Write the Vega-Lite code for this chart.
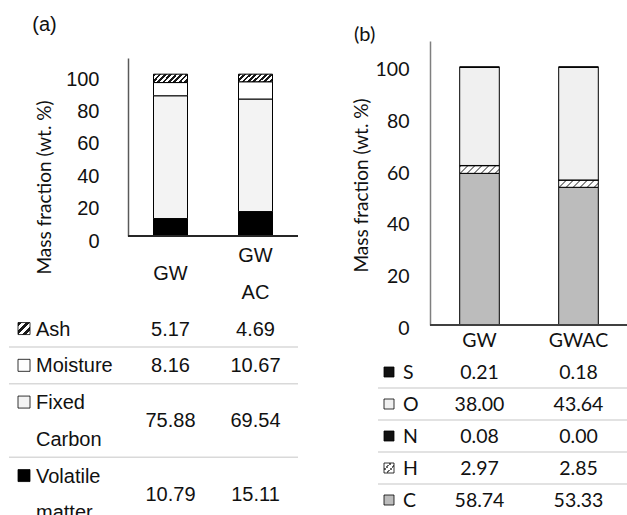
{
  "$schema": "https://vega.github.io/schema/vega-lite/v6.json",
  "background": "white",
  "padding": {"left": 8, "top": 15, "right": 0, "bottom": 0},
  "config": {"view": {"stroke": null}},
  "datasets": {
    "proximate": [
      {"sample": "GW", "component": "Volatile matter", "value": 10.79},
      {"sample": "GW", "component": "Fixed Carbon", "value": 75.88},
      {"sample": "GW", "component": "Moisture", "value": 8.16},
      {"sample": "GW", "component": "Ash", "value": 5.17},
      {"sample": "GW AC", "component": "Volatile matter", "value": 15.11},
      {"sample": "GW AC", "component": "Fixed Carbon", "value": 69.54},
      {"sample": "GW AC", "component": "Moisture", "value": 10.67},
      {"sample": "GW AC", "component": "Ash", "value": 4.69}
    ],
    "ultimate": [
      {"sample": "GW", "element": "C", "value": 58.74},
      {"sample": "GW", "element": "H", "value": 2.97},
      {"sample": "GW", "element": "N", "value": 0.08},
      {"sample": "GW", "element": "O", "value": 38.00},
      {"sample": "GW", "element": "S", "value": 0.21},
      {"sample": "GWAC", "element": "C", "value": 53.33},
      {"sample": "GWAC", "element": "H", "value": 2.85},
      {"sample": "GWAC", "element": "N", "value": 0.00},
      {"sample": "GWAC", "element": "O", "value": 43.64},
      {"sample": "GWAC", "element": "S", "value": 0.18}
    ]
  },
  "spacing": 53,
  "hconcat": [
    {
      "width": 170,
      "height": 474,
      "title": {"text": "(a)", "anchor": "start", "frame": "bounds", "dx": 24, "offset": 6, "font": "Liberation Sans", "fontSize": 20, "fontWeight": "normal", "color": "#111"},
      "data": {"name": "proximate"},
      "resolve": {"scale": {"x": "independent", "y": "independent", "fill": "independent"}},
      "layer": [
        {
          "transform": [{"filter": "datum.sample === 'GW' && datum.component !== 'Ash'"}],
          "mark": {"type": "rule", "color": "#d9d9d9", "strokeWidth": 1.5},
          "encoding": {
            "x": {"datum": "left", "type": "nominal", "scale": {"type": "point", "domain": ["left", "right"], "range": [-119, 170], "padding": 0}, "axis": null},
            "x2": {"datum": "right"},
            "y": {"field": "component", "type": "nominal", "bandPosition": 0, "scale": {"type": "band", "domain": ["sample", "sample-2", "Ash", "Moisture", "Fixed Carbon", "Fixed Carbon-2", "Volatile matter", "Volatile matter-2"], "range": [195.7, 489.7], "paddingInner": 0, "paddingOuter": 0}, "axis": null}
          }
        },
        {
          "transform": [{"calculate": "indexof(['Volatile matter', 'Fixed Carbon', 'Moisture', 'Ash'], datum.component)", "as": "stack_rank"}],
          "mark": {"type": "bar", "stroke": "#000", "strokeWidth": 1},
          "encoding": {
            "x": {"field": "sample", "type": "nominal", "scale": {"type": "band", "domain": ["GW", "GW AC"], "paddingInner": 0.6, "paddingOuter": 0.3}, "axis": null},
            "y": {
              "field": "value", "type": "quantitative", "stack": "zero",
              "scale": {"domain": [0, 110], "range": [195, 17], "nice": false},
              "axis": {
                "values": [0, 20, 40, 60, 80, 100], "grid": false, "ticks": false,
                "domainColor": "#595959", "domainWidth": 1.5,
                "labelFont": "Liberation Sans", "labelFontSize": 20, "labelColor": "#111", "labelPadding": 29, "labelOffset": 5,
                "title": "Mass fraction (wt. %)", "titleFont": "Lato", "titleFontSize": 19, "titleFontWeight": "normal", "titleColor": "#111",
                "titleAngle": -90, "titleAnchor": "middle", "titleBaseline": "middle", "titleX": -84, "titleY": 146
              }
            },
            "order": {"field": "stack_rank", "type": "quantitative", "sort": "ascending"},
            "fill": {
              "condition": {
                "test": "datum.component === 'Ash'",
                "value": {"gradient": "linear", "x1": 0, "y1": 0, "x2": 1.2, "y2": 0.28, "stops": [
                  {"offset": 0, "color": "#1a1a1a"}, {"offset": 0.0625, "color": "#1a1a1a"}, {"offset": 0.0625, "color": "#ffffff"}, {"offset": 0.125, "color": "#ffffff"},
                  {"offset": 0.125, "color": "#1a1a1a"}, {"offset": 0.1875, "color": "#1a1a1a"}, {"offset": 0.1875, "color": "#ffffff"}, {"offset": 0.25, "color": "#ffffff"},
                  {"offset": 0.25, "color": "#1a1a1a"}, {"offset": 0.3125, "color": "#1a1a1a"}, {"offset": 0.3125, "color": "#ffffff"}, {"offset": 0.375, "color": "#ffffff"},
                  {"offset": 0.375, "color": "#1a1a1a"}, {"offset": 0.4375, "color": "#1a1a1a"}, {"offset": 0.4375, "color": "#ffffff"}, {"offset": 0.5, "color": "#ffffff"},
                  {"offset": 0.5, "color": "#1a1a1a"}, {"offset": 0.5625, "color": "#1a1a1a"}, {"offset": 0.5625, "color": "#ffffff"}, {"offset": 0.625, "color": "#ffffff"},
                  {"offset": 0.625, "color": "#1a1a1a"}, {"offset": 0.6875, "color": "#1a1a1a"}, {"offset": 0.6875, "color": "#ffffff"}, {"offset": 0.75, "color": "#ffffff"},
                  {"offset": 0.75, "color": "#1a1a1a"}, {"offset": 0.8125, "color": "#1a1a1a"}, {"offset": 0.8125, "color": "#ffffff"}, {"offset": 0.875, "color": "#ffffff"},
                  {"offset": 0.875, "color": "#1a1a1a"}, {"offset": 0.9375, "color": "#1a1a1a"}, {"offset": 0.9375, "color": "#ffffff"}, {"offset": 1, "color": "#ffffff"}
                ]}
              },
              "field": "component", "type": "nominal",
              "scale": {"domain": ["Volatile matter", "Fixed Carbon", "Moisture", "Ash"], "range": ["#000000", "#f3f3f3", "#ffffff", "#555555"]},
              "legend": null
            }
          }
        },
        {
          "mark": {"type": "rule", "color": "#262626", "strokeWidth": 2},
          "encoding": {
            "y": {"datum": 0, "type": "quantitative", "scale": {"domain": [0, 110], "range": [195, 17], "nice": false}, "axis": null}
          }
        },
        {
          "transform": [{"filter": "datum.sample === 'GW'"}],
          "mark": {"type": "point", "shape": "square", "filled": true, "size": 144, "stroke": "#000", "strokeWidth": 0.8, "opacity": 1},
          "encoding": {
            "x": {"datum": "key", "type": "nominal", "scale": {"type": "point", "domain": ["key", "label"], "range": [-104, -92], "padding": 0}, "axis": null},
            "y": {"field": "component", "type": "nominal", "scale": {"type": "band", "domain": ["sample", "sample-2", "Ash", "Moisture", "Fixed Carbon", "Fixed Carbon-2", "Volatile matter", "Volatile matter-2"], "range": [195.7, 489.7], "paddingInner": 0, "paddingOuter": 0}, "axis": null},
            "fill": {
              "condition": {
                "test": "datum.component === 'Ash'",
                "value": {"gradient": "linear", "x1": 0, "y1": 0, "x2": 1, "y2": 1, "stops": [
                  {"offset": 0, "color": "#1a1a1a"}, {"offset": 0.1667, "color": "#1a1a1a"}, {"offset": 0.1667, "color": "#ffffff"}, {"offset": 0.3333, "color": "#ffffff"},
                  {"offset": 0.3333, "color": "#1a1a1a"}, {"offset": 0.5, "color": "#1a1a1a"}, {"offset": 0.5, "color": "#ffffff"}, {"offset": 0.6667, "color": "#ffffff"},
                  {"offset": 0.6667, "color": "#1a1a1a"}, {"offset": 0.8333, "color": "#1a1a1a"}, {"offset": 0.8333, "color": "#ffffff"}, {"offset": 1, "color": "#ffffff"}
                ]}
              },
              "field": "component", "type": "nominal",
              "scale": {"domain": ["Volatile matter", "Fixed Carbon", "Moisture", "Ash"], "range": ["#000000", "#f3f3f3", "#ffffff", "#555555"]},
              "legend": null
            }
          }
        },
        {
          "transform": [{"filter": "datum.sample === 'GW'"}],
          "mark": {"type": "text", "align": "left", "baseline": "alphabetic", "dy": 7, "lineBreak": " ", "lineHeight": 36.75, "font": "Liberation Sans", "fontSize": 20, "color": "#111"},
          "encoding": {
            "x": {"datum": "label", "type": "nominal", "scale": {"type": "point", "domain": ["key", "label"], "range": [-104, -92], "padding": 0}, "axis": null},
            "y": {"field": "component", "type": "nominal", "scale": {"type": "band", "domain": ["sample", "sample-2", "Ash", "Moisture", "Fixed Carbon", "Fixed Carbon-2", "Volatile matter", "Volatile matter-2"], "range": [195.7, 489.7], "paddingInner": 0, "paddingOuter": 0}, "axis": null},
            "text": {"field": "component", "type": "nominal"}
          }
        },
        {
          "transform": [{"filter": "indexof(datum.component, ' ') < 0"}],
          "mark": {"type": "text", "align": "center", "baseline": "alphabetic", "dy": 7, "font": "Liberation Sans", "fontSize": 20, "color": "#111"},
          "encoding": {
            "x": {"field": "sample", "type": "nominal", "scale": {"type": "band", "domain": ["GW", "GW AC"], "paddingInner": 0.6, "paddingOuter": 0.3}, "axis": null},
            "y": {"field": "component", "type": "nominal", "scale": {"type": "band", "domain": ["sample", "sample-2", "Ash", "Moisture", "Fixed Carbon", "Fixed Carbon-2", "Volatile matter", "Volatile matter-2"], "range": [195.7, 489.7], "paddingInner": 0, "paddingOuter": 0}, "axis": null},
            "text": {"field": "value", "type": "quantitative", "format": ".2f"}
          }
        },
        {
          "transform": [{"filter": "indexof(datum.component, ' ') > 0"}],
          "mark": {"type": "text", "align": "center", "baseline": "alphabetic", "dy": 7, "font": "Liberation Sans", "fontSize": 20, "color": "#111"},
          "encoding": {
            "x": {"field": "sample", "type": "nominal", "scale": {"type": "band", "domain": ["GW", "GW AC"], "paddingInner": 0.6, "paddingOuter": 0.3}, "axis": null},
            "y": {"field": "component", "type": "nominal", "bandPosition": 1, "scale": {"type": "band", "domain": ["sample", "sample-2", "Ash", "Moisture", "Fixed Carbon", "Fixed Carbon-2", "Volatile matter", "Volatile matter-2"], "range": [195.7, 489.7], "paddingInner": 0, "paddingOuter": 0}, "axis": null},
            "text": {"field": "value", "type": "quantitative", "format": ".2f"}
          }
        },
        {
          "transform": [{"filter": "datum.component === 'Ash' && indexof(datum.sample, ' ') < 0"}],
          "mark": {"type": "text", "align": "center", "baseline": "alphabetic", "dy": 7, "font": "Liberation Sans", "fontSize": 20, "color": "#111"},
          "encoding": {
            "x": {"field": "sample", "type": "nominal", "scale": {"type": "band", "domain": ["GW", "GW AC"], "paddingInner": 0.6, "paddingOuter": 0.3}, "axis": null},
            "y": {"datum": "sample", "type": "nominal", "bandPosition": 1, "scale": {"type": "band", "domain": ["sample", "sample-2", "Ash", "Moisture", "Fixed Carbon", "Fixed Carbon-2", "Volatile matter", "Volatile matter-2"], "range": [195.7, 489.7], "paddingInner": 0, "paddingOuter": 0}, "axis": null},
            "text": {"field": "sample", "type": "nominal"}
          }
        },
        {
          "transform": [{"filter": "datum.component === 'Ash' && indexof(datum.sample, ' ') > 0"}],
          "mark": {"type": "text", "align": "center", "baseline": "alphabetic", "dy": 7, "lineBreak": " ", "lineHeight": 36.75, "font": "Liberation Sans", "fontSize": 20, "color": "#111"},
          "encoding": {
            "x": {"field": "sample", "type": "nominal", "scale": {"type": "band", "domain": ["GW", "GW AC"], "paddingInner": 0.6, "paddingOuter": 0.3}, "axis": null},
            "y": {"datum": "sample", "type": "nominal", "scale": {"type": "band", "domain": ["sample", "sample-2", "Ash", "Moisture", "Fixed Carbon", "Fixed Carbon-2", "Volatile matter", "Volatile matter-2"], "range": [195.7, 489.7], "paddingInner": 0, "paddingOuter": 0}, "axis": null},
            "text": {"field": "sample", "type": "nominal"}
          }
        }
      ]
    },
    {
      "width": 198,
      "height": 474,
      "title": {"text": "(b)", "anchor": "start", "frame": "bounds", "dx": 2, "offset": -4, "font": "Lato", "fontSize": 20, "fontWeight": "normal", "color": "#111"},
      "data": {"name": "ultimate"},
      "resolve": {"scale": {"x": "independent", "y": "independent", "fill": "independent"}},
      "layer": [
        {
          "transform": [{"filter": "datum.sample === 'GW' && datum.element !== 'S'"}],
          "mark": {"type": "rule", "color": "#d9d9d9", "strokeWidth": 1.5},
          "encoding": {
            "x": {"datum": "left", "type": "nominal", "scale": {"type": "point", "domain": ["left", "right"], "range": [-52, 198], "padding": 0}, "axis": null},
            "x2": {"datum": "right"},
            "y": {"field": "element", "type": "nominal", "bandPosition": 0, "scale": {"type": "band", "domain": ["sample", "S", "O", "N", "H", "C"], "range": [283, 475], "paddingInner": 0, "paddingOuter": 0}, "axis": null}
          }
        },
        {
          "transform": [{"calculate": "indexof(['C', 'H', 'N', 'O', 'S'], datum.element)", "as": "stack_rank"}],
          "mark": {"type": "bar", "stroke": "#000", "strokeWidth": 1},
          "encoding": {
            "x": {"field": "sample", "type": "nominal", "scale": {"type": "band", "domain": ["GW", "GWAC"], "paddingInner": 0.6, "paddingOuter": 0.3}, "axis": null},
            "y": {
              "field": "value", "type": "quantitative", "stack": "zero",
              "scale": {"domain": [0, 110], "range": [284, 0], "nice": false},
              "axis": {
                "values": [0, 20, 40, 60, 80, 100], "grid": false, "ticks": false,
                "domainColor": "#7f7f7f", "domainWidth": 1.5,
                "labelFont": "Lato", "labelFontSize": 19.5, "labelColor": "#111", "labelPadding": 21, "labelOffset": 3,
                "title": "Mass fraction (wt. %)", "titleFont": "Lato", "titleFontSize": 19, "titleFontWeight": "normal", "titleColor": "#111",
                "titleAngle": -90, "titleAnchor": "middle", "titleBaseline": "middle", "titleX": -69, "titleY": 144
              }
            },
            "order": {"field": "stack_rank", "type": "quantitative", "sort": "ascending"},
            "fill": {
              "condition": {
                "test": "datum.element === 'H'",
                "value": {"gradient": "linear", "x1": 0, "y1": 0, "x2": 1.2, "y2": 0.23, "stops": [
                  {"offset": 0, "color": "#8c8c8c"}, {"offset": 0.04, "color": "#8c8c8c"}, {"offset": 0.04, "color": "#ffffff"}, {"offset": 0.143, "color": "#ffffff"},
                  {"offset": 0.143, "color": "#8c8c8c"}, {"offset": 0.183, "color": "#8c8c8c"}, {"offset": 0.183, "color": "#ffffff"}, {"offset": 0.286, "color": "#ffffff"},
                  {"offset": 0.286, "color": "#8c8c8c"}, {"offset": 0.326, "color": "#8c8c8c"}, {"offset": 0.326, "color": "#ffffff"}, {"offset": 0.429, "color": "#ffffff"},
                  {"offset": 0.429, "color": "#8c8c8c"}, {"offset": 0.469, "color": "#8c8c8c"}, {"offset": 0.469, "color": "#ffffff"}, {"offset": 0.571, "color": "#ffffff"},
                  {"offset": 0.571, "color": "#8c8c8c"}, {"offset": 0.611, "color": "#8c8c8c"}, {"offset": 0.611, "color": "#ffffff"}, {"offset": 0.714, "color": "#ffffff"},
                  {"offset": 0.714, "color": "#8c8c8c"}, {"offset": 0.754, "color": "#8c8c8c"}, {"offset": 0.754, "color": "#ffffff"}, {"offset": 0.857, "color": "#ffffff"},
                  {"offset": 0.857, "color": "#8c8c8c"}, {"offset": 0.897, "color": "#8c8c8c"}, {"offset": 0.897, "color": "#ffffff"}, {"offset": 1, "color": "#ffffff"}
                ]}
              },
              "field": "element", "type": "nominal",
              "scale": {"domain": ["C", "H", "N", "O", "S"], "range": ["#bcbcbc", "#e0e0e0", "#111111", "#f0f0f0", "#111111"]},
              "legend": null
            }
          }
        },
        {
          "mark": {"type": "rule", "color": "#404040", "strokeWidth": 2},
          "encoding": {
            "y": {"datum": 0, "type": "quantitative", "scale": {"domain": [0, 110], "range": [284, 0], "nice": false}, "axis": null}
          }
        },
        {
          "transform": [{"filter": "datum.sample === 'GW'"}],
          "mark": {"type": "point", "shape": "square", "filled": true, "size": 100, "stroke": "#000", "strokeWidth": 0.8, "opacity": 1},
          "encoding": {
            "x": {"datum": "key", "type": "nominal", "scale": {"type": "point", "domain": ["key", "label"], "range": [-41, -27], "padding": 0}, "axis": null},
            "y": {"field": "element", "type": "nominal", "scale": {"type": "band", "domain": ["sample", "S", "O", "N", "H", "C"], "range": [283, 475], "paddingInner": 0, "paddingOuter": 0}, "axis": null},
            "fill": {
              "condition": {
                "test": "datum.element === 'H'",
                "value": {"gradient": "linear", "x1": 0, "y1": 0, "x2": 1, "y2": 1, "stops": [
                  {"offset": 0, "color": "#ffffff"}, {"offset": 0.3, "color": "#ffffff"}, {"offset": 0.3, "color": "#666666"}, {"offset": 0.4, "color": "#666666"},
                  {"offset": 0.4, "color": "#ffffff"}, {"offset": 0.6, "color": "#ffffff"}, {"offset": 0.6, "color": "#666666"}, {"offset": 0.7, "color": "#666666"},
                  {"offset": 0.7, "color": "#ffffff"}, {"offset": 1, "color": "#ffffff"}
                ]}
              },
              "field": "element", "type": "nominal",
              "scale": {"domain": ["C", "H", "N", "O", "S"], "range": ["#bcbcbc", "#e0e0e0", "#111111", "#f0f0f0", "#111111"]},
              "legend": null
            }
          }
        },
        {
          "transform": [{"filter": "datum.sample === 'GW'"}],
          "mark": {"type": "text", "align": "left", "baseline": "alphabetic", "dy": 7, "font": "Lato", "fontSize": 19.5, "color": "#111"},
          "encoding": {
            "x": {"datum": "label", "type": "nominal", "scale": {"type": "point", "domain": ["key", "label"], "range": [-41, -27], "padding": 0}, "axis": null},
            "y": {"field": "element", "type": "nominal", "scale": {"type": "band", "domain": ["sample", "S", "O", "N", "H", "C"], "range": [283, 475], "paddingInner": 0, "paddingOuter": 0}, "axis": null},
            "text": {"field": "element", "type": "nominal"}
          }
        },
        {
          "mark": {"type": "text", "align": "center", "baseline": "alphabetic", "dy": 7, "font": "Lato", "fontSize": 19.5, "color": "#111"},
          "encoding": {
            "x": {"field": "sample", "type": "nominal", "scale": {"type": "band", "domain": ["GW", "GWAC"], "paddingInner": 0.6, "paddingOuter": 0.3}, "axis": null},
            "y": {"field": "element", "type": "nominal", "scale": {"type": "band", "domain": ["sample", "S", "O", "N", "H", "C"], "range": [283, 475], "paddingInner": 0, "paddingOuter": 0}, "axis": null},
            "text": {"field": "value", "type": "quantitative", "format": ".2f"}
          }
        },
        {
          "transform": [{"filter": "datum.element === 'C'"}],
          "mark": {"type": "text", "align": "center", "baseline": "alphabetic", "dy": 7, "font": "Lato", "fontSize": 19.5, "color": "#111"},
          "encoding": {
            "x": {"field": "sample", "type": "nominal", "scale": {"type": "band", "domain": ["GW", "GWAC"], "paddingInner": 0.6, "paddingOuter": 0.3}, "axis": null},
            "y": {"datum": "sample", "type": "nominal", "scale": {"type": "band", "domain": ["sample", "S", "O", "N", "H", "C"], "range": [283, 475], "paddingInner": 0, "paddingOuter": 0}, "axis": null},
            "text": {"field": "sample", "type": "nominal"}
          }
        }
      ]
    }
  ]
}
